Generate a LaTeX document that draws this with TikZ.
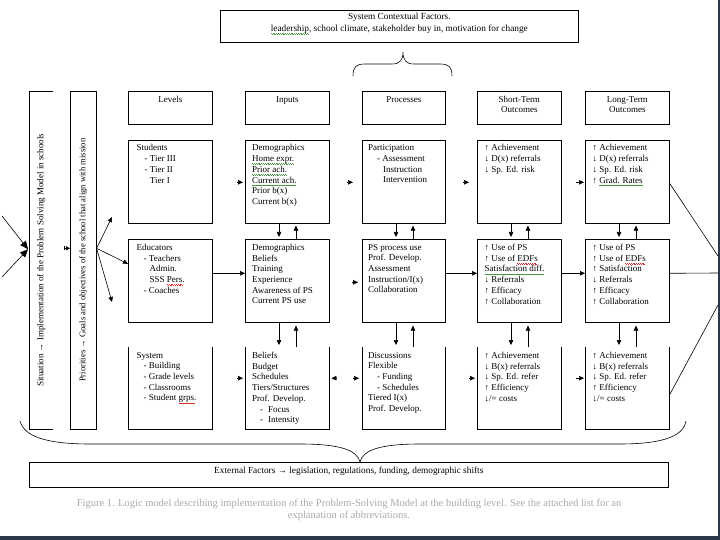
\documentclass[tikz,border=0pt]{standalone}
\usepackage{fontspec}
\setmainfont{Liberation Serif}
\usetikzlibrary{arrows.meta,calc}
\definecolor{sqgreen}{RGB}{70,150,70}
\definecolor{sqred}{RGB}{220,40,40}
\definecolor{capgrey}{RGB}{170,170,170}
\definecolor{framecol}{RGB}{42,56,74}
\newcommand\sqmark[2]{\setbox0\hbox{#2}\rlap{\hbox to \wd0{\color{#1}\leaders\hbox{\raisebox{-2.2pt}{\rule{0.9pt}{0.6pt}}\raisebox{-2.9pt}{\rule{0.9pt}{0.6pt}}}\hfill}}#2}
\newcommand\gsq[1]{\sqmark{sqgreen}{#1}}
\newcommand\rsq[1]{\sqmark{sqred}{#1}}
\tikzset{
  box/.style={draw, line width=0.6pt, inner sep=0pt, anchor=north west},
  obox/.style={inner sep=0pt, anchor=north west},
  txt/.style={anchor=north west, align=left, inner sep=0pt, font=\fontsize{9}{10.7}\selectfont},
  hdr/.style={anchor=north, align=center, inner sep=0pt, font=\fontsize{9}{10}\selectfont},
  lin/.style={line width=0.6pt},
  arr/.style={-{Triangle[length=5pt,width=4.5pt]}, line width=0.6pt},
  bigarr/.style={-{Triangle[length=8pt,width=7pt]}, line width=0.6pt},
  vtxt/.style={rotate=90, inner sep=0pt, font=\fontsize{9}{10}\selectfont},
}
\begin{document}
\begin{tikzpicture}[x=1pt,y=-1pt]
\useasboundingbox (0,0) rectangle (720,540);
\fill[white] (0,0) rectangle (720,540);
\fill[framecol] (0,536) rectangle (720,540);
\fill[framecol] (718,0) rectangle (720,540);

% top box
\node[box, minimum width=358pt, minimum height=32pt] (ctx) at (220,10) {};
\node[hdr, font=\fontsize{9.3}{12}\selectfont] (ctxt) at ($(ctx.north)+(0,3)$) {System Contextual Factors.\\ \gsq{leadership}, school climate, stakeholder buy in, motivation for change};

% top brace
\draw[lin] (353,76) .. controls (353,67) and (356,64) .. (365,64) -- (392,64) .. controls (400,64) and (403,60) .. (403,52)
  .. controls (403,60) and (406,64) .. (414,64) -- (440,64) .. controls (449,64) and (452,67) .. (452,76);

% left vertical boxes
\node[obox, minimum width=24pt, minimum height=338pt] (a) at (29,91) {};
\draw[lin] (a.north east) -- (a.north west) -- (a.south west) -- (a.south east);
\node[vtxt] (at) at (a.center) {Situation → Implementation of the Problem Solving Model in schools};
\node[box, minimum width=26pt, minimum height=338pt] (b) at (70,91) {};
\node[vtxt, font=\fontsize{8.6}{10}\selectfont] (bt) at (b.center) {Priorities → Goals and objectives of the school that align with mission};

% headers
\node[box, minimum width=84pt, minimum height=33pt] (hl) at (128,91) {};
\node[box, minimum width=84pt, minimum height=33pt] (hi) at (245,91) {};
\node[box, minimum width=83pt, minimum height=33pt] (hp) at (362,91) {};
\node[box, minimum width=84pt, minimum height=33pt] (hs) at (477,91) {};
\node[box, minimum width=84pt, minimum height=33pt] (ht) at (585,91) {};
\node[hdr] (hlt) at ($(hl.north)+(0,5)$) {Levels};
\node[hdr] (hit) at ($(hi.north)+(0,5)$) {Inputs};
\node[hdr] (hpt) at ($(hp.north)+(0,5)$) {Processes};
\node[hdr] (hst) at ($(hs.north)+(0,5)$) {Short-Term\\Outcomes};
\node[hdr] (htt) at ($(ht.north)+(0,5)$) {Long-Term\\Outcomes};

% row 1
\node[box, minimum width=84pt, minimum height=83pt] (l1) at (128,140) {};
\node[box, minimum width=84pt, minimum height=83pt] (i1) at (245,140) {};
\node[box, minimum width=83pt, minimum height=83pt] (p1) at (362,140) {};
\node[box, minimum width=84pt, minimum height=83pt] (s1) at (477,140) {};
\node[box, minimum width=84pt, minimum height=83pt] (t1) at (585,140) {};
% row 2
\node[box, minimum width=84pt, minimum height=83pt] (l2) at (128,239) {};
\node[box, minimum width=84pt, minimum height=83pt] (i2) at (245,239) {};
\node[box, minimum width=83pt, minimum height=83pt] (p2) at (362,239) {};
\node[box, minimum width=84pt, minimum height=83pt] (s2) at (477,239) {};
\node[box, minimum width=84pt, minimum height=83pt] (t2) at (585,239) {};
% row 3 (open top)
\node[obox, minimum width=84pt, minimum height=82pt] (l3) at (128,347) {};
\node[obox, minimum width=84pt, minimum height=82pt] (i3) at (245,347) {};
\node[obox, minimum width=83pt, minimum height=82pt] (p3) at (362,347) {};
\node[obox, minimum width=84pt, minimum height=82pt] (s3) at (477,347) {};
\node[obox, minimum width=84pt, minimum height=82pt] (t3) at (585,347) {};
\foreach \n in {l3,i3,p3,s3,t3}{
  \draw[lin] (\n.north west) -- (\n.south west) -- (\n.south east) -- (\n.north east);
}

% texts row 1
\node[txt] (l1t) at ($(l1.north west)+(8.5,4.5)$) {Students\\ \hspace*{8pt}- Tier III\\ \hspace*{8pt}- Tier II\\ \hspace*{8pt}\phantom{- }Tier I};
\node[txt] (i1t) at ($(i1.north west)+(7,4.5)$) {Demographics\\ \gsq{Home expr.}\\ \gsq{Prior ach.}\\ \gsq{Current ach.}\\ Prior b(x)\\ Current b(x)};
\node[txt] (p1t) at ($(p1.north west)+(6,4.5)$) {Participation\\ \hspace*{9pt}- Assessment\\ \hspace*{15pt}Instruction\\ \hspace*{15pt}Intervention};
\node[txt] (s1t) at ($(s1.north west)+(7.5,4.5)$) {↑ Achievement\\ ↓ D(x) referrals\\ ↓ Sp. Ed. risk};
\node[txt] (t1t) at ($(t1.north west)+(7.5,4.5)$) {↑ Achievement\\ ↓ D(x) referrals\\ ↓ Sp. Ed. risk\\ ↑ \gsq{Grad. Rates}};
% texts row 2
\node[txt] (l2t) at ($(l2.north west)+(8.5,5)$) {Educators\\ \hspace*{7pt}- Teachers\\ \hspace*{13pt}Admin.\\ \hspace*{13pt}SSS \rsq{Pers.}\\ \hspace*{7pt}- Coaches};
\node[txt] (i2t) at ($(i2.north west)+(7,5)$) {Demographics\\ Beliefs\\ Training\\ Experience\\ Awareness of PS\\ Current PS use};
\node[txt] (p2t) at ($(p2.north west)+(6,5)$) {PS process use\\ Prof. Develop.\\ Assessment\\ Instruction/I(x)\\ Collaboration};
\node[txt] (s2t) at ($(s2.north west)+(7.5,5)$) {↑ Use of PS\\ ↑ Use of \rsq{EDFs}\\ \gsq{Satisfaction diff.}\\ ↓ Referrals\\ ↑ Efficacy\\ ↑ Collaboration};
\node[txt] (t2t) at ($(t2.north west)+(7.5,5)$) {↑ Use of PS\\ ↑ Use of \rsq{EDFs}\\ ↑ Satisfaction\\ ↓ Referrals\\ ↑ Efficacy\\ ↑ Collaboration};
% texts row 3
\node[txt] (l3t) at ($(l3.north west)+(8.5,5)$) {System\\ \hspace*{7pt}- Building\\ \hspace*{7pt}- Grade levels\\ \hspace*{7pt}- Classrooms\\ \hspace*{7pt}- Student \rsq{grps.}};
\node[txt] (i3t) at ($(i3.north west)+(7,5)$) {Beliefs\\ Budget\\ Schedules\\ Tiers/Structures\\ Prof. Develop.\\ \hspace*{8pt}-\hspace*{5pt}Focus\\ \hspace*{8pt}-\hspace*{5pt}Intensity};
\node[txt] (p3t) at ($(p3.north west)+(6,5)$) {Discussions\\ Flexible\\ \hspace*{9pt}- Funding\\ \hspace*{9pt}- Schedules\\ Tiered I(x)\\ Prof. Develop.};
\node[txt] (s3t) at ($(s3.north west)+(7.5,5)$) {↑ Achievement\\ ↓ B(x) referrals\\ ↓ Sp. Ed. refer\\ ↑ Efficiency\\ ↓/= costs};
\node[txt] (t3t) at ($(t3.north west)+(7.5,5)$) {↑ Achievement\\ ↓ B(x) referrals\\ ↓ Sp. Ed. refer\\ ↑ Efficiency\\ ↓/= costs};

% vertical arrows between rows
\foreach \c in {i,p,s,t}{
  \draw[arr] ($(\c1.south west)+(34,0)$) -- ($(\c2.north west)+(34,-2)$);
  \draw[arr] ($(\c2.north west)+(51,0)$) -- ($(\c1.south west)+(51,2)$);
  \draw[arr] ($(\c2.south west)+(34,0)$) -- ($(\c3.north west)+(34,-2)$);
  \draw[arr] ($(\c3.north west)+(51,0)$) -- ($(\c2.south west)+(51,3)$);
}

% row 1 arrow tips
\draw[arr] ($(i1.west)+(-8,0.5)$) -- ($(i1.west)+(-2,0.5)$);
\draw[arr] ($(p1.west)+(-15,0.5)$) -- ($(p1.west)+(-9,0.5)$);
\draw[arr] ($(s1.west)+(-14,0.5)$) -- ($(s1.west)+(-8,0.5)$);
\draw[arr] ($(t1.west)+(-9,0.5)$) -- ($(t1.west)+(-1,0.5)$);
% row 2 arrows
\draw[arr] ($(l2.east)+(0,-7.5)$) -- ($(i2.west)+(0,-7.5)$);
\draw[arr] ($(p2.west)+(-10,1.5)$) -- ($(p2.west)+(-4,1.5)$);
\draw[arr] ($(p2.east)+(0,-7.5)$) -- ($(s2.west)+(0,-7.5)$);
\draw[arr] ($(s2.east)+(0,-7.5)$) -- ($(t2.west)+(0,-7.5)$);
% row 3 arrow tips
\draw[arr] ($(i3.west)+(-8,-10)$) -- ($(i3.west)+(-2,-10)$);
\draw[arr] ($(i3.east)+(8,-10)$) -- ($(i3.east)+(2,-10)$);
\draw[arr] ($(p3.west)+(-9,-10)$) -- ($(p3.west)+(-3,-10)$);
\draw[arr] ($(s3.west)+(-8,-10)$) -- ($(s3.west)+(-2,-10)$);
\draw[arr] ($(t3.west)+(-9,-10)$) -- ($(t3.west)+(-1,-10)$);

% left arrows
\coordinate (inA1) at (2,216);
\coordinate (inA2) at (2,277);
\draw[bigarr] (inA1) -- ($(a.west)+(-1,-11)$);
\draw[bigarr] (inA2) -- ($(a.west)+(-1,-11)$);
\draw[{Bar[width=4pt]}-{Triangle[length=4pt,width=4pt]}, line width=0.6pt] ($(b.west)+(-6,-12)$) -- ($(b.west)+(0,-12)$);
\coordinate (up1) at (112,217);
\coordinate (dn1) at (112,302);
\draw[arr] ($(b.east)+(0,-12)$) -- (up1);
\draw[arr] ($(b.east)+(0,-12)$) -- ($(l2.west)+(0,-17)$);
\draw[arr] ($(b.east)+(0,-12)$) -- (dn1);

% right lines
\coordinate (r1) at (718,256);
\coordinate (r2) at (718,273);
\coordinate (r3) at (718,305);
\draw[lin] ($(t1.east)+(0,1.5)$) -- (r1);
\draw[lin] ($(t2.east)+(0,-7.5)$) -- (r2);
\draw[lin] ($(t3.east)+(0,7)$) -- (r3);

% external factors
\node[box, minimum width=639pt, minimum height=25pt] (ext) at (29,462) {};
\node[hdr, font=\fontsize{9.3}{10}\selectfont] (extt) at ($(ext.north)+(0,5)$) {External Factors → legislation, regulations, funding, demographic shifts};

% bottom brace
\coordinate (btip) at ($(ext.north west)+(331,0)$);
\draw[lin] (20,421) .. controls (24,436) and (45,444) .. (90,444) -- (300,444) .. controls (340,444) and (357,450) .. (btip);
\draw[lin] (btip) .. controls (363,450) and (380,444) .. (420,444) -- (620,444) .. controls (668,444) and (684,434) .. (686,421);

% caption
\node[hdr, font=\fontsize{10.5}{12}\selectfont, text=capgrey] (cap) at (349,499) {Figure 1. Logic model describing implementation of the Problem-Solving Model at the building level. See the attached list for an\\ explanation of abbreviations.};
\end{tikzpicture}
\end{document}
